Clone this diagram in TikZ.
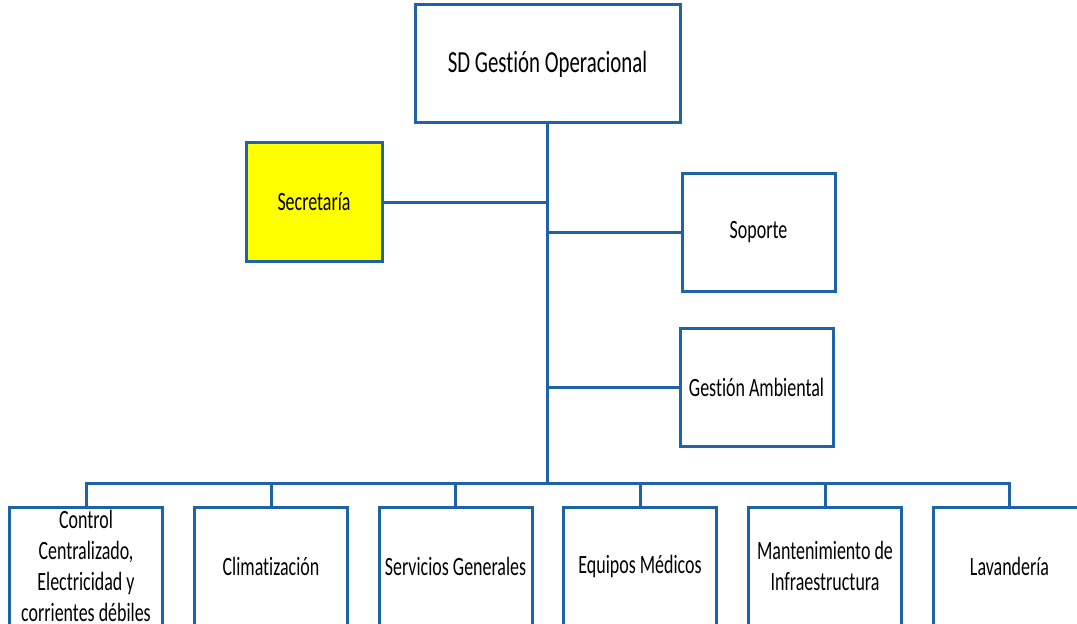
\documentclass[tikz,border=0pt]{standalone}
\usepackage{fontspec}
\setmainfont{Carlito}[FakeStretch=0.68,RawFeature=-liga]
\definecolor{orgblue}{RGB}{30,98,168}
\definecolor{secyellow}{RGB}{255,255,0}
\begin{document}
\begin{tikzpicture}[x=0.75pt,y=-0.75pt,
  unit/.style={draw=orgblue,line width=2.25pt,fill=white,inner sep=2pt,
    minimum width=153*0.75pt,minimum height=118*0.75pt,align=center,
    font=\fontsize{19.8pt}{23.25pt}\selectfont,text=black},
  link/.style={draw=orgblue,line width=2.25pt,line join=miter}]
\useasboundingbox (0,0) rectangle (1077,624);
\fill[white] (0,0) rectangle (1077,624);

% head of the unit
\node[unit,minimum width=265*0.75pt,font=\fontsize{23pt}{27pt}\selectfont]
  (head) at (547.5,64) {SD Gestión Operacional};

% staff and support units
\node[unit,fill=secyellow,minimum width=136*0.75pt] (sec) at (314,202) {Secretaría};
\node[unit] (sop) at (758.5,232) {Soporte};
\node[unit] (amb) at (756.5,387) {Gestión Ambiental};

% operating departments
\node[unit] (d1) at (86,566) {Control\\Centralizado,\\Electricidad y\\corrientes débiles};
\node[unit] (d2) at (271,566) {Climatización};
\node[unit] (d3) at (455.5,566) {Servicios Generales};
\node[unit] (d4) at (640,566) {Equipos Médicos};
\node[unit] (d5) at (825,566) {Mantenimiento de\\Infraestructura};
\node[unit] (d6) at (1009.5,566) {Lavandería};

% trunk and bus
\coordinate (bus) at (547.5,483);
\draw[link] (head.south) -- (bus);
\draw[link] (sec.east) -- (sec.east -| head.south);
\draw[link] (sop.west) -- (sop.west -| head.south);
\draw[link] (amb.west) -- (amb.west -| head.south);
\draw[link] (d1.north) |- (bus) -| (d6.north);
\foreach \d in {d2,d3,d4,d5}
  \draw[link] (\d.north) -- (\d.north |- bus);
\end{tikzpicture}
\end{document}
